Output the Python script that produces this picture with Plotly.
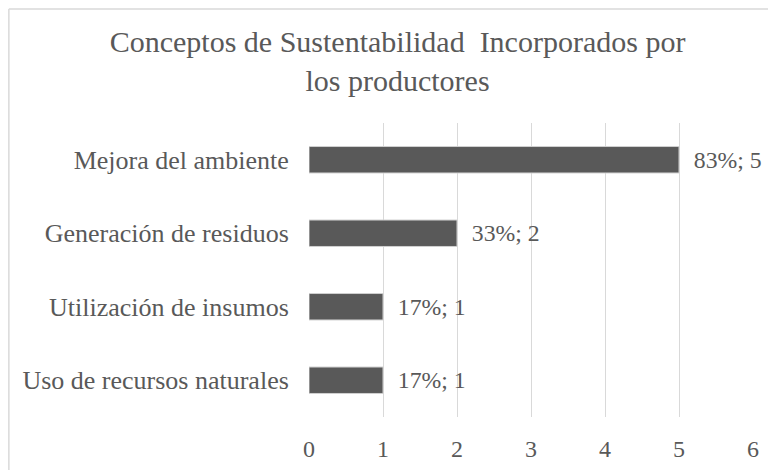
import plotly.graph_objects as go

categories = ["Uso de recursos naturales", "Utilización de insumos", "Generación de residuos", "Mejora del ambiente"]
counts = [1, 1, 2, 5]
percents = ["17%", "17%", "33%", "83%"]
x_ticks = [0, 1, 2, 3, 4, 5, 6]

labels = [f"\u00a0\u00a0{p}; {c}" for p, c in zip(percents, counts)]
FONT = "Liberation Serif, Times New Roman, serif"
GRAY = "#595959"

fig = go.Figure(go.Bar(
    y=categories, x=counts, orientation="h",
    marker=dict(color=GRAY, line=dict(color="#d0d0d0", width=1)),
    width=0.36,
    text=labels, textposition="outside", cliponaxis=False,
    textfont=dict(family=FONT, size=26, color=GRAY),
))

# page body adds an 8px offset; margins account for it
fig.update_layout(
    width=776, height=470,
    margin=dict(l=301, r=31, t=115, b=61, autoexpand=False),
    paper_bgcolor="white", plot_bgcolor="white",
    showlegend=False,
    title=dict(
        text="Conceptos de Sustentabilidad  Incorporados por<br>los productores",
        x=0.502, xanchor="center", y=0.907, yanchor="middle",
        font=dict(family=FONT, size=30, color=GRAY),
    ),
    xaxis=dict(
        range=[0, 6], tickvals=x_ticks, showgrid=True, gridcolor="#d9d9d9", gridwidth=1,
        zeroline=False, showline=False, automargin=False,
        tickfont=dict(family=FONT, size=24, color=GRAY),
        ticks="outside", ticklen=0, ticklabelstandoff=10,
    ),
    yaxis=dict(
        showgrid=False, zeroline=False, showline=False, automargin=False,
        tickfont=dict(family=FONT, size=26, color=GRAY),
        ticks="outside", ticklen=0, ticklabelstandoff=14,
    ),
    shapes=[
        dict(type="line", xref="paper", yref="paper", x0=-0.676, x1=1.2, y0=1.388, y1=1.388,
             line=dict(color="#d9d9d9", width=1.5)),
        dict(type="line", xref="paper", yref="paper", x0=-0.676, x1=-0.676, y0=1.388, y1=-0.3,
             line=dict(color="#d9d9d9", width=1.5)),
    ],
)

fig.write_html("out.html")
